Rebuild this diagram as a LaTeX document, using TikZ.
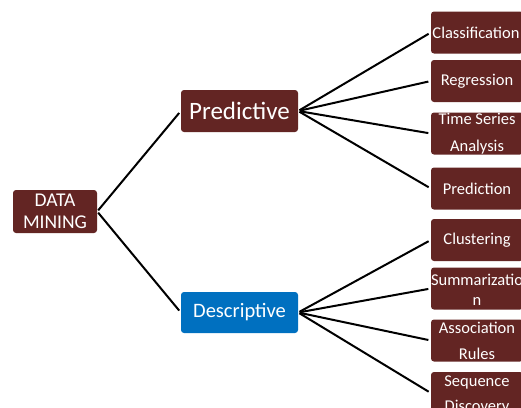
\documentclass[tikz,border=0pt]{standalone}
\usepackage{fontspec}
\setmainfont{Carlito}
\definecolor{maroon}{HTML}{632523}
\definecolor{dblue}{HTML}{0070C0}
\begin{document}
\begin{tikzpicture}[x=1pt,y=-1pt,
  box/.style={fill=maroon,rounded corners=3pt,inner sep=0pt,draw=none},
  lbl/.style={text=white,inner sep=0pt,align=center},
  conn/.style={line width=2pt,black,shorten <=1.5pt,shorten >=2.5pt}]
\useasboundingbox (0,0) rectangle (521,407);
\clip (0,0) rectangle (521,407);
% main boxes
\node[box,minimum width=84pt,minimum height=43pt] (dm) at (55,211.5) {};
\node[lbl,font=\fontsize{19.5}{22}\selectfont] (dmt) at (dm) {DATA\\MINING};
\node[box,minimum width=117pt,minimum height=42pt] (pr) at (239.5,111) {};
\node[lbl,font=\fontsize{25}{28}\selectfont] (prt) at (pr) {Predictive};
\node[box,fill=dblue,minimum width=117pt,minimum height=41pt] (de) at (239.5,312.5) {};
\node[lbl,font=\fontsize{20.5}{24}\selectfont] (det) at (de) {Descriptive};
% leaf boxes
\foreach \n/\y in {c1/32.5,c2/81,c3/133.5,c4/188.5,d1/240,d2/288.5,d3/340.5,d4/393}{
  \node[box,minimum width=92pt,minimum height=42pt] (\n) at (477,\y) {};
}
\node[lbl,font=\fontsize{16.5}{20}\selectfont] (c1t) at ([xshift=-1pt]c1) {Classification};
\node[lbl,font=\fontsize{16.5}{20}\selectfont] (c2t) at (c2) {Regression};
\node[lbl,font=\fontsize{16.5}{27}\selectfont] (c3t) at (c3) {Time Series\\Analysis};
\node[lbl,font=\fontsize{16.5}{20}\selectfont] (c4t) at (c4) {Prediction};
\node[lbl,font=\fontsize{16.5}{20}\selectfont] (d1t) at (d1) {Clustering};
\node[lbl,font=\fontsize{16.5}{20}\selectfont] (d2t) at ([yshift=-1pt]d2) {Summarizatio\\n};
\node[lbl,font=\fontsize{16.5}{26}\selectfont] (d3t) at (d3) {Association\\Rules};
\node[lbl,font=\fontsize{16.5}{25}\selectfont] (d4t) at ([yshift=-2pt]d4) {Sequence\\Discovery};
% connectors
\draw[conn] (dm.east) -- (pr.west);
\draw[conn] (dm.east) -- (de.west);
\foreach \n in {c1,c2,c3,c4}{\draw[conn] (pr.east) -- (\n.west);}
\foreach \n in {d1,d2,d3,d4}{\draw[conn] (de.east) -- (\n.west);}
\end{tikzpicture}
\end{document}
